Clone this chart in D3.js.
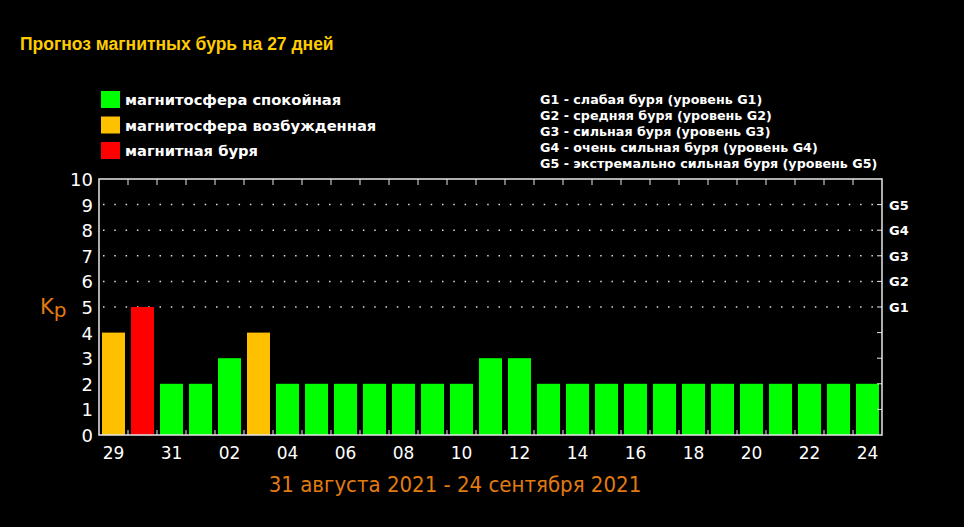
<!DOCTYPE html>
<html>
<head>
<meta charset="utf-8">
<script src="https://cdn.jsdelivr.net/npm/d3@7"></script>
<style>
  body { margin: 0; background: #000; }
  svg { display: block; }
</style>
</head>
<body>
<div id="chart-area"></div>
<script>
// data
var days = ["29","30","31","01","02","03","04","05","06","07","08","09","10","11","12",
            "13","14","15","16","17","18","19","20","21","22","23","24"];
var kp = [4,5,2,2,3,4,2,2,2,2,2,2,2,3,3,2,2,2,2,2,2,2,2,2,2,2,2];
var levels = ["excited","storm","calm","calm","calm","excited","calm","calm","calm","calm","calm","calm","calm",
              "calm","calm","calm","calm","calm","calm","calm","calm","calm","calm","calm","calm","calm","calm"];
var legendItems = ["магнитосфера спокойная", "магнитосфера возбужденная", "магнитная буря"];
var gLegend = ["G1 - слабая буря (уровень G1)", "G2 - средняя буря (уровень G2)",
               "G3 - сильная буря (уровень G3)", "G4 - очень сильная буря (уровень G4)",
               "G5 - экстремально сильная буря (уровень G5)"];
var gLevels = [5,6,7,8,9];
var gLabels = ["G1","G2","G3","G4","G5"];

var colors = { calm: "#00ff00", excited: "#ffc000", storm: "#ff0000" };

//Margins
var margin = { left:99, right:82, top:179, bottom:92 },
    width = 964 - margin.left - margin.right,
    height = 527 - margin.top - margin.bottom;

var svg = d3.select("#chart-area").append("svg")
    .attr("width", 964)
    .attr("height", 527)
    .style("background", "#000");

//Title
svg.append("text")
    .attr("x", 20).attr("y", 50)
    .attr("fill", "#ffcc00")
    .attr("font-family", "Liberation Sans, Arial, sans-serif")
    .attr("font-weight", "bold")
    .attr("font-size", "17.5px")
    .text("Прогноз магнитных бурь на 27 дней");

//Color legend
var leg = svg.append("g").attr("transform", "translate(101,91)");
leg.selectAll("rect").data(legendItems).enter().append("rect")
    .attr("x", 0).attr("y", function(d, i){ return i * 25.5; })
    .attr("width", 19).attr("height", 17)
    .attr("fill", function(d, i){ return [colors.calm, colors.excited, colors.storm][i]; });
leg.selectAll("text").data(legendItems).enter().append("text")
    .attr("x", 24).attr("y", function(d, i){ return i * 25.5 + 14; })
    .attr("fill", "#fff")
    .attr("font-family", "DejaVu Sans, Verdana, sans-serif")
    .attr("font-weight", "bold")
    .attr("font-size", "14.7px")
    .text(function(d){ return d; });

//G legend
svg.append("g").attr("transform", "translate(540,104)")
  .selectAll("text").data(gLegend).enter().append("text")
    .attr("x", 0).attr("y", function(d, i){ return i * 16; })
    .attr("fill", "#fff")
    .attr("font-family", "DejaVu Sans, Verdana, sans-serif")
    .attr("font-weight", "bold")
    .attr("font-size", "12.7px")
    .text(function(d){ return d; });

var g = svg.append("g")
    .attr("transform", "translate(" + margin.left + "," + margin.top + ")");

//scales
var xb = d3.scaleBand().domain(days).range([0, width]);
var y = d3.scaleLinear().domain([0, 10]).range([height, 0]);

//dotted grid for storm levels
g.selectAll(".grid").data(gLevels).enter().append("line")
    .attr("class", "grid")
    .attr("x1", 4).attr("x2", width)
    .attr("y1", function(d){ return y(d); })
    .attr("y2", function(d){ return y(d); })
    .attr("stroke", "#ddd")
    .attr("stroke-width", 1.5)
    .attr("stroke-dasharray", "1.5,9.8");

//bars
g.selectAll(".bar").data(kp).enter().append("rect")
    .attr("class", "bar")
    .attr("x", function(d, i){ return xb(days[i]) + 3; })
    .attr("width", xb.bandwidth() - 6)
    .attr("y", function(d){ return y(d); })
    .attr("height", function(d){ return height - y(d); })
    .attr("fill", function(d, i){ return colors[levels[i]]; });

//frame
g.append("rect")
    .attr("x", 0).attr("y", 0)
    .attr("width", width).attr("height", height)
    .attr("fill", "none")
    .attr("stroke", "#e8e8e8")
    .attr("stroke-width", 1.5);

//bottom/top ticks at band boundaries
var bounds = days.slice(1).map(function(d){ return xb(d); });
g.selectAll(".tb").data(bounds).enter().append("line")
    .attr("x1", function(d){ return d; }).attr("x2", function(d){ return d; })
    .attr("y1", height).attr("y2", height - 5)
    .attr("stroke", "#e8e8e8");
g.selectAll(".tt").data(bounds).enter().append("line")
    .attr("x1", function(d){ return d; }).attr("x2", function(d){ return d; })
    .attr("y1", 0).attr("y2", 6)
    .attr("stroke", "#e8e8e8");

//right ticks
g.selectAll(".tr").data(d3.range(1, 10)).enter().append("line")
    .attr("x1", width).attr("x2", width - 5)
    .attr("y1", function(d){ return y(d); })
    .attr("y2", function(d){ return y(d); })
    .attr("stroke", "#e8e8e8");

//x labels
g.selectAll(".xl").data(days.filter(function(d, i){ return i % 2 == 0; })).enter().append("text")
    .attr("x", function(d){ return xb(d) + xb.bandwidth() / 2; })
    .attr("y", height + 24)
    .attr("text-anchor", "middle")
    .attr("fill", "#fff")
    .attr("font-family", "DejaVu Sans, sans-serif")
    .attr("font-size", "17px")
    .text(function(d){ return d; });

//y labels
g.selectAll(".yl").data(d3.range(0, 11)).enter().append("text")
    .attr("x", -6)
    .attr("y", function(d){ return y(d) + 7; })
    .attr("text-anchor", "end")
    .attr("fill", "#fff")
    .attr("font-family", "DejaVu Sans, sans-serif")
    .attr("font-size", "18px")
    .text(function(d){ return d; });

//G labels
g.selectAll(".gl").data(gLevels).enter().append("text")
    .attr("x", width + 7)
    .attr("y", function(d, i){ return y(d) + 5; })
    .attr("fill", "#fff")
    .attr("font-family", "DejaVu Sans, Verdana, sans-serif")
    .attr("font-weight", "bold")
    .attr("font-size", "13px")
    .text(function(d, i){ return gLabels[i]; });

//Kp label
var kpLabel = svg.append("text")
    .attr("x", 40).attr("y", 314)
    .attr("fill", "#e07b12")
    .attr("font-family", "DejaVu Sans, sans-serif")
    .attr("font-size", "21px");
kpLabel.append("tspan").text("K");
kpLabel.append("tspan").attr("dy", 3).attr("font-size", "20px").text("p");

//date range
svg.append("text")
    .attr("x", 455).attr("y", 492)
    .attr("text-anchor", "middle")
    .attr("fill", "#e07b12")
    .attr("font-family", "DejaVu Sans Condensed, DejaVu Sans, sans-serif")
    .attr("font-size", "22px")
    .text("31 августа 2021 - 24 сентября 2021");
</script>
</body>
</html>
